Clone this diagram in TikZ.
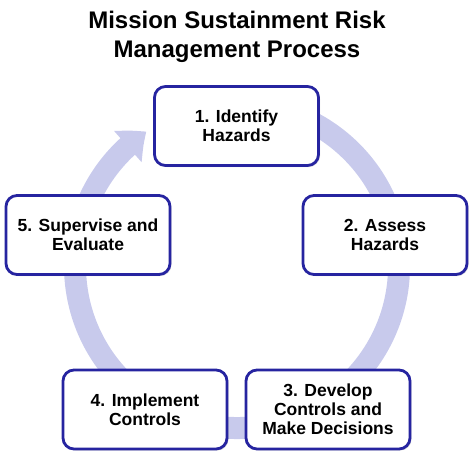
\documentclass[tikz,border=0pt]{standalone}
\usepackage{fontspec}
\setmainfont{Liberation Sans}
\usetikzlibrary{arrows.meta,bending,shadows}
\definecolor{ringc}{RGB}{200,202,236}
\definecolor{boxc}{RGB}{38,36,160}
\tikzset{
  stepbox/.style={draw=boxc, line width=2.8pt, fill=white, rounded corners=11pt,
    minimum width=164pt, minimum height=79pt, align=center,
    font=\fontsize{17.5}{18.8}\selectfont\bfseries,
    drop shadow={opacity=0.25, shadow xshift=1.5pt, shadow yshift=-1.5pt}},
  ring/.style={draw=ringc, line width=22pt, -{Triangle[width=40pt,length=24pt,bend]}},
  titletext/.style={align=center, font=\fontsize{24}{28.5}\selectfont\bfseries}
}
\begin{document}
\begin{tikzpicture}[x=1pt,y=-1pt]
\useasboundingbox (0,0) rectangle (474,459);
\draw[ring] ([shift={(100:162pt)}]237pt,-266pt) arc[start angle=100, end angle=-236, radius=162pt];
\node[titletext] (title) at (237,37) {Mission Sustainment Risk\\Management Process};
\node[stepbox] (s1) at (236.5,126) {1. Identify\\Hazards};
\node[stepbox] (s2) at (385,235) {2. Assess\\Hazards};
\node[stepbox] (s3) at (328,409.5) {3. Develop\\Controls and\\Make Decisions};
\node[stepbox] (s4) at (145,409.5) {4. Implement\\Controls};
\node[stepbox] (s5) at (88,235) {5. Supervise and\\Evaluate};
\end{tikzpicture}
\end{document}
